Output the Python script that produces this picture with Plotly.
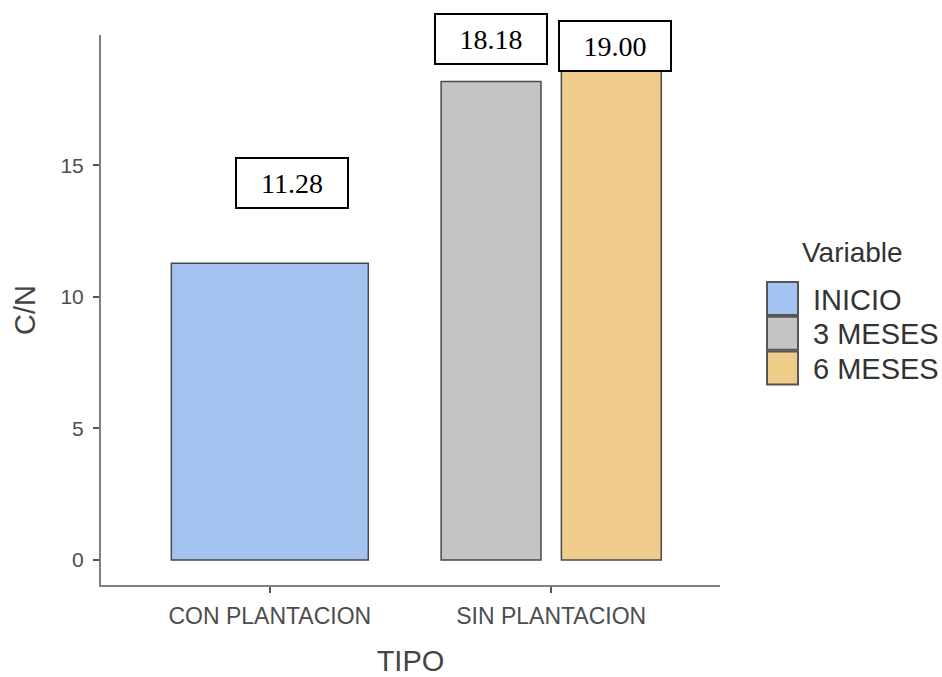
import plotly.graph_objects as go

# C/N ratio by plot type and sampling time
tipo = ["CON PLANTACION", "SIN PLANTACION", "SIN PLANTACION"]
variable = ["INICIO", "3 MESES", "6 MESES"]
cn = [11.28, 18.18, 19.00]

categorias = ["CON PLANTACION", "SIN PLANTACION"]
niveles = ["INICIO", "3 MESES", "6 MESES"]
colores = {"INICIO": "#A4C3F0", "3 MESES": "#C4C4C4", "6 MESES": "#EFCB8C"}
y_ticks = [0, 5, 10, 15]

# figure geometry (pixels)
W, H = 942, 677
M_L, M_R, M_T, M_B = 101, 222, 35, 92
PW, PH = W - M_L - M_R, H - M_T - M_B

def px_x(px):
    return (px - M_L) / PW

def px_y(py):
    return (H - M_B - py) / PH

# dodged bar layout: a lone bar fills the slot, pairs are split
SLOT_SINGLE = 0.70
DODGE_W = 0.355
DODGE_STEP = 0.4275

pos_cat = {c: i + 1 for i, c in enumerate(categorias)}
xs, ws = [], []
for i, (t, v) in enumerate(zip(tipo, variable)):
    grupo = [j for j, tt in enumerate(tipo) if tt == t]
    n = len(grupo)
    k = grupo.index(i)
    if n == 1:
        xs.append(pos_cat[t])
        ws.append(SLOT_SINGLE)
    else:
        xs.append(pos_cat[t] + (k - (n - 1) / 2) * DODGE_STEP)
        ws.append(DODGE_W)

fig = go.Figure()
for i in range(len(cn)):
    fig.add_trace(go.Bar(
        x=[xs[i]], y=[cn[i]], width=[ws[i]],
        marker=dict(color=colores[variable[i]], line=dict(color="#4a4a4a", width=1.5)),
        name=variable[i], showlegend=False, hoverinfo="skip",
    ))

# value boxes above the bars (pixel offsets from the bar top)
label_shift = [(22, 80), (0, 43), (4, 14)]
for i in range(len(cn)):
    fig.add_annotation(
        x=xs[i], y=cn[i], xref="x", yref="y",
        text=f"{cn[i]:.2f}", showarrow=False,
        xshift=label_shift[i][0], yshift=label_shift[i][1],
        font=dict(family="Liberation Serif", size=28, color="black"),
        bgcolor="white", bordercolor="black", borderwidth=2, borderpad=0,
        width=110, height=48, align="center", valign="middle",
    )

# legend drawn as keys + labels
fig.add_annotation(
    x=px_x(800), y=px_y(252), xref="paper", yref="paper",
    text="Variable", showarrow=False, xanchor="left", yanchor="middle",
    font=dict(family="Liberation Sans", size=28, color="#333333"),
)
key_top = 282
key_step = 34.7
for k, nivel in enumerate(niveles):
    y0 = key_top + k * key_step
    fig.add_shape(
        type="rect", xref="paper", yref="paper",
        x0=px_x(767), x1=px_x(798), y0=px_y(y0 + 33), y1=px_y(y0),
        fillcolor=colores[nivel], line=dict(color="#555555", width=2),
    )
    fig.add_annotation(
        x=px_x(811), y=px_y(y0 + 17.5), xref="paper", yref="paper",
        text=nivel, showarrow=False, xanchor="left", yanchor="middle",
        font=dict(family="Liberation Sans", size=29, color="#333333"),
    )

axis_font = dict(family="Liberation Sans", size=23, color="#4d4d4d")
title_font = dict(family="Liberation Sans", size=29, color="#444444")

fig.update_layout(
    width=W, height=H,
    margin=dict(l=M_L, r=M_R, t=M_T, b=M_B, pad=0),
    plot_bgcolor="white", paper_bgcolor="white",
    showlegend=False, barmode="overlay",
    xaxis=dict(
        range=[0.4, 2.6], tickmode="array",
        tickvals=[pos_cat[c] for c in categorias], ticktext=categorias,
        showline=True, linecolor="#808080", linewidth=2,
        ticks="outside", ticklen=6, tickwidth=2, tickcolor="#555555",
        ticklabelstandoff=3, automargin=False,
        showgrid=False, zeroline=False, tickfont=axis_font,
        title=dict(text="TIPO", font=title_font, standoff=27),
    ),
    yaxis=dict(
        range=[-0.95, 19.95], tickmode="array", tickvals=y_ticks,
        showline=True, linecolor="#808080", linewidth=2,
        ticks="outside", ticklen=6, tickwidth=2, tickcolor="#555555",
        ticklabelstandoff=5, automargin=False,
        showgrid=False, zeroline=False,
        tickfont=dict(family="Liberation Sans", size=21, color="#4d4d4d"),
        title=dict(text="C/N", font=title_font, standoff=16),
    ),
)

fig.write_html("out.html")
